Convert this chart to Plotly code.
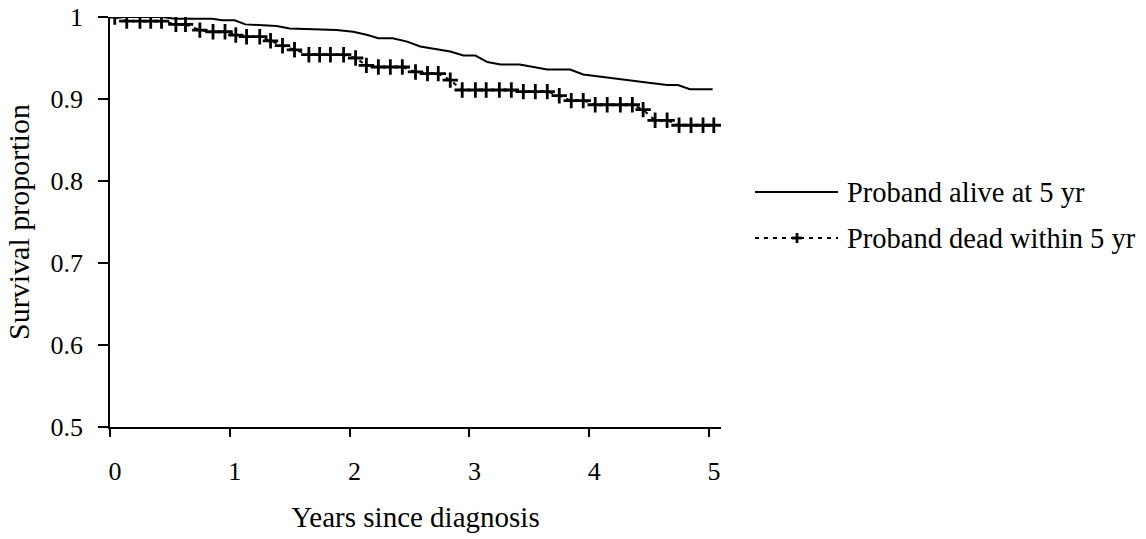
import plotly.graph_objects as go

# Kaplan-Meier survival by proband status
alive_years = [0.00, 0.44, 0.54, 0.85, 0.94, 1.04, 1.13, 1.29, 1.39, 1.50, 1.64,
               1.89, 2.03, 2.15, 2.24, 2.36, 2.48, 2.59, 2.84, 2.95, 3.05, 3.15,
               3.26, 3.42, 3.65, 3.84, 3.95, 4.15, 4.34, 4.48, 4.65, 4.74, 4.84, 5.03]
alive_surv = [1.000, 1.000, 0.998, 0.998, 0.996, 0.996, 0.991, 0.990, 0.989, 0.986, 0.985,
              0.984, 0.982, 0.978, 0.974, 0.974, 0.970, 0.964, 0.958, 0.953, 0.953, 0.945,
              0.942, 0.942, 0.936, 0.936, 0.930, 0.926, 0.923, 0.920, 0.917, 0.917, 0.912, 0.912]

dead_years = [0.04, 0.14, 0.25, 0.34, 0.43, 0.55, 0.63, 0.75, 0.86, 0.96, 1.05,
              1.14, 1.25, 1.34, 1.44, 1.54, 1.66, 1.75, 1.84, 1.95, 2.05, 2.14,
              2.24, 2.34, 2.44, 2.55, 2.65, 2.74, 2.84, 2.94, 3.05, 3.14, 3.25,
              3.35, 3.45, 3.55, 3.65, 3.75, 3.85, 3.95, 4.05, 4.15, 4.26, 4.36,
              4.45, 4.55, 4.65, 4.75, 4.85, 4.95, 5.04]
dead_surv = [1.000, 0.995, 0.995, 0.995, 0.995, 0.991, 0.991, 0.984, 0.982, 0.982, 0.978,
             0.976, 0.976, 0.971, 0.965, 0.960, 0.954, 0.954, 0.954, 0.954, 0.950, 0.941,
             0.939, 0.939, 0.939, 0.933, 0.931, 0.931, 0.923, 0.911, 0.911, 0.911, 0.911,
             0.911, 0.909, 0.909, 0.909, 0.904, 0.898, 0.898, 0.893, 0.893, 0.893, 0.893,
             0.887, 0.874, 0.874, 0.868, 0.868, 0.868, 0.868]

series_names = ["Proband alive at 5 yr", "Proband dead within 5 yr"]
y_ticks = [0.5, 0.6, 0.7, 0.8, 0.9, 1.0]
y_tick_text = ["0.5", "0.6", "0.7", "0.8", "0.9", "1"]
x_ticks = [0, 1, 2, 3, 4, 5]

FONT = "Liberation Serif, Times New Roman, serif"
DASH = "4px,5px"

fig = go.Figure()
fig.add_trace(go.Scatter(
    x=alive_years, y=alive_surv, mode="lines", name=series_names[0],
    line=dict(color="black", width=2), showlegend=False,
))
fig.add_trace(go.Scatter(
    x=dead_years, y=dead_surv, mode="lines+markers", name=series_names[1],
    line=dict(color="black", width=2, dash=DASH),
    marker=dict(symbol="cross-thin", size=11, line=dict(color="black", width=2.8)),
    showlegend=False,
))

# Plot area in pixels: x 110..721, y 17..427
L, R, T, B = 110, 721, 17, 427
W, H = R - L, B - T


def px(xp):
    return (xp - L) / W


def py(yp):
    return (B - yp) / H


# Legend drawn at the right of the plot area
leg_x0, leg_x1, text_x = 755, 838, 845
rows = [192, 238]
shapes = [
    dict(type="line", xref="paper", yref="paper", x0=px(leg_x0), x1=px(leg_x1),
         y0=py(rows[0]), y1=py(rows[0]), line=dict(color="black", width=2)),
    dict(type="line", xref="paper", yref="paper", x0=px(leg_x0), x1=px(leg_x1),
         y0=py(rows[1]), y1=py(rows[1]), line=dict(color="black", width=2, dash=DASH)),
]
# cross marker on the dotted legend sample
cx, cy = 797, rows[1]
shapes += [
    dict(type="line", xref="paper", yref="paper", x0=px(cx - 5), x1=px(cx + 5),
         y0=py(cy), y1=py(cy), line=dict(color="black", width=2.8)),
    dict(type="line", xref="paper", yref="paper", x0=px(cx), x1=px(cx),
         y0=py(cy - 5), y1=py(cy + 5), line=dict(color="black", width=2.8)),
]
annotations = [
    dict(xref="paper", yref="paper", x=px(text_x), y=py(r), text=name,
         showarrow=False, xanchor="left", yanchor="middle",
         font=dict(family=FONT, size=28.5, color="black"))
    for r, name in zip(rows, series_names)
]

fig.update_layout(
    width=1146, height=539,
    margin=dict(l=L, r=1146 - R, t=T, b=539 - B, autoexpand=False),
    paper_bgcolor="white", plot_bgcolor="white",
    font=dict(family=FONT, size=26, color="black"),
    shapes=shapes, annotations=annotations,
    xaxis=dict(
        range=[0, 5.1], tickvals=x_ticks, ticks="outside", ticklen=8, tickwidth=1.5,
        tickcolor="black", showline=True, linecolor="black", linewidth=1.5,
        showgrid=False, zeroline=False, ticklabelstandoff=12, ticklabelshift=5,
        title=dict(text="Years since diagnosis", font=dict(size=29), standoff=22),
    ),
    yaxis=dict(
        range=[0.5, 1.0], tickvals=y_ticks, ticktext=y_tick_text, ticks="outside",
        ticklen=10, tickwidth=1.5, tickcolor="black", showline=True, linecolor="black",
        linewidth=1.5, showgrid=False, zeroline=False, ticklabelstandoff=10,
        title=dict(text="Survival proportion", font=dict(size=30), standoff=12),
    ),
)

fig.write_html("out.html")
